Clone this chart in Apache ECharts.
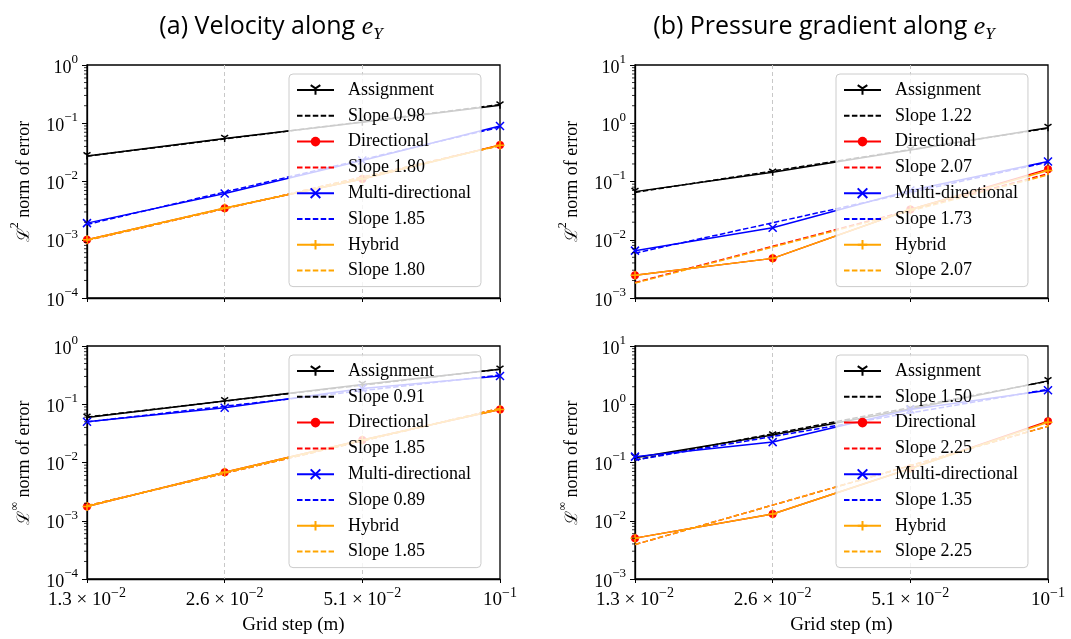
<!DOCTYPE html>
<html>
<head>
<meta charset="utf-8">
<script src="https://cdn.jsdelivr.net/npm/echarts@6/dist/echarts.min.js"></script>
<style>
html,body{margin:0;padding:0;background:#fff;}
#chart{width:1071px;height:639px;}
</style>
</head>
<body>
<div id="chart"></div>
<script>
// ---------- data ----------
const gridSteps = ['0.0128', '0.0256', '0.0512', '0.1024'];
const xTickMantissa = ['1.3', '2.6', '5.1', ''];
const xTickExponent = ['−2', '−2', '−2', '−1'];
const methodNames = ['Assignment', 'Directional', 'Multi-directional', 'Hybrid'];

// (a) Velocity, L2 norm
const velL2Assignment = [0.0275, 0.0546, 0.104, 0.204];
const velL2Directional = [0.00100, 0.00349, 0.0110, 0.0425];
const velL2Multi = [0.00193, 0.0062, 0.0229, 0.090];
const velL2Hybrid = [0.00100, 0.00350, 0.0110, 0.0420];
const velL2FitAssignment = [0.0272, 0.209];
const velL2FitDirectional = [0.00098, 0.0413];
const velL2FitMulti = [0.00183, 0.086];
const velL2FitHybrid = [0.00098, 0.0413];
const velL2Slopes = ['0.98', '1.80', '1.85', '1.80'];

// (b) Pressure gradient, L2 norm
const prsL2Assignment = [0.067, 0.144, 0.347, 0.84];
const prsL2Directional = [0.00245, 0.00479, 0.033, 0.163];
const prsL2Multi = [0.0065, 0.0161, 0.070, 0.22];
const prsL2Hybrid = [0.00245, 0.00479, 0.033, 0.155];
const prsL2FitAssignment = [0.065, 0.82];
const prsL2FitDirectional = [0.00184, 0.136];
const prsL2FitMulti = [0.0059, 0.215];
const prsL2FitHybrid = [0.0018, 0.130];
const prsL2Slopes = ['1.22', '2.07', '1.73', '2.07'];

// (a) Velocity, Linf norm
const velLiAssignment = [0.0593, 0.114, 0.218, 0.398];
const velLiDirectional = [0.00175, 0.00679, 0.0243, 0.0813];
const velLiMulti = [0.050, 0.0868, 0.186, 0.306];
const velLiHybrid = [0.00175, 0.00679, 0.0243, 0.0813];
const velLiFitAssignment = [0.0604, 0.40];
const velLiFitDirectional = [0.00181, 0.0848];
const velLiFitMulti = [0.0498, 0.317];
const velLiFitHybrid = [0.00181, 0.0848];
const velLiSlopes = ['0.91', '1.85', '0.89', '1.85'];

// (b) Pressure gradient, Linf norm
const prsLiAssignment = [0.121, 0.296, 0.83, 2.52];
const prsLiDirectional = [0.00503, 0.0131, 0.079, 0.513];
const prsLiMulti = [0.126, 0.224, 0.81, 1.74];
const prsLiHybrid = [0.00503, 0.0131, 0.079, 0.49];
const prsLiFitAssignment = [0.11, 2.49];
const prsLiFitDirectional = [0.0039, 0.42];
const prsLiFitMulti = [0.11, 1.80];
const prsLiFitHybrid = [0.0039, 0.42];
const prsLiSlopes = ['1.50', '2.25', '1.35', '2.25'];

const minorMultipliers = [2, 3, 4, 5, 6, 7, 8, 9];

// ---------- styling ----------
const SERIF = '"Liberation Serif", "DejaVu Serif", serif';
const SANS = '"Open Sans", "Noto Sans", sans-serif';
const colors = ['#000000', '#ff0000', '#0000ff', '#ffa500'];
const SYM_TRI = 'path://M5,5L5,10M5,5L0.67,2.5M5,5L9.33,2.5';
const SYM_X = 'path://M0,0L10,10M10,0L0,10';
const SYM_PLUS = 'path://M5,0L5,10M0,5L10,5';
const SYM_BOX = 'path://M0,0L10,0L10,10L0,10Z';
const symbols = [SYM_TRI, 'circle', SYM_X, SYM_PLUS];
const symbolSizes = [7, 8, 8, 9];
const DASH = [5.5, 2.4];

const panels = [
  {left: 87, top: 65, yMin: 1e-4, yMax: 1, showX: false, sup: '2',
   data: [velL2Assignment, velL2Directional, velL2Multi, velL2Hybrid],
   fits: [velL2FitAssignment, velL2FitDirectional, velL2FitMulti, velL2FitHybrid],
   slopes: velL2Slopes, legendLeft: 289, legendTop: 74},
  {left: 635, top: 65, yMin: 1e-3, yMax: 10, showX: false, sup: '2',
   data: [prsL2Assignment, prsL2Directional, prsL2Multi, prsL2Hybrid],
   fits: [prsL2FitAssignment, prsL2FitDirectional, prsL2FitMulti, prsL2FitHybrid],
   slopes: prsL2Slopes, legendLeft: 836, legendTop: 74},
  {left: 87, top: 346, yMin: 1e-4, yMax: 1, showX: true, sup: '∞',
   data: [velLiAssignment, velLiDirectional, velLiMulti, velLiHybrid],
   fits: [velLiFitAssignment, velLiFitDirectional, velLiFitMulti, velLiFitHybrid],
   slopes: velLiSlopes, legendLeft: 289, legendTop: 355},
  {left: 635, top: 346, yMin: 1e-3, yMax: 10, showX: true, sup: '∞',
   data: [prsLiAssignment, prsLiDirectional, prsLiMulti, prsLiHybrid],
   fits: [prsLiFitAssignment, prsLiFitDirectional, prsLiFitMulti, prsLiFitHybrid],
   slopes: prsLiSlopes, legendLeft: 836, legendTop: 355}
];
const PW = 413, PH = 233;

const tickRich = {
  b: {fontFamily: SERIF, fontSize: 18, color: '#000', lineHeight: 24, verticalAlign: 'bottom'},
  s: {fontFamily: SERIF, fontSize: 13, color: '#000', lineHeight: 13, verticalAlign: 'top'}
};
const xTickRich = {
  b: {fontFamily: SERIF, fontSize: 19, color: '#000', lineHeight: 24, verticalAlign: 'bottom'},
  s: {fontFamily: SERIF, fontSize: 14, color: '#000', lineHeight: 13, verticalAlign: 'top'}
};
const nameRich = {
  l: {fontFamily: '"DejaVu Serif", serif', fontSize: 17, color: '#000', lineHeight: 24, verticalAlign: 'bottom'},
  s: {fontFamily: SERIF, fontSize: 12, color: '#000', lineHeight: 12, verticalAlign: 'top'},
  t: {fontFamily: SERIF, fontSize: 18, color: '#000', lineHeight: 24, verticalAlign: 'bottom'}
};

function expStr(v) {
  const e = Math.round(Math.log10(v));
  return (e < 0 ? '−' + (-e) : String(e));
}

const grids = [], xAxes = [], yAxes = [], series = [], legends = [];

panels.forEach((p, i) => {
  grids.push({left: p.left, top: p.top, width: PW, height: PH, show: true,
              borderColor: '#000', borderWidth: 1.3, backgroundColor: 'transparent'});
  xAxes.push({
    type: 'category', gridIndex: i, data: gridSteps, boundaryGap: false,
    axisLine: {show: true, lineStyle: {color: '#000', width: 1.3}},
    axisTick: {show: true, inside: false, length: 4, lineStyle: {color: '#000', width: 1}},
    splitLine: {show: true, interval: (idx) => idx > 0 && idx < gridSteps.length - 1,
                lineStyle: {color: '#c8c8c8', type: [4, 3], width: 1}},
    axisLabel: {show: p.showX, margin: 7, interval: 0,
      formatter: (v, idx) => '{b|' + (xTickMantissa[idx] ? xTickMantissa[idx] + ' × ' : '') + '10}{s|' + xTickExponent[idx] + '}',
      rich: xTickRich},
    name: p.showX ? 'Grid step (m)' : '', nameLocation: 'middle', nameGap: 37,
    nameTextStyle: {fontFamily: SERIF, fontSize: 19, color: '#000'}
  });
  yAxes.push({
    type: 'log', gridIndex: i, logBase: 10, min: p.yMin, max: p.yMax,
    axisLine: {show: true, lineStyle: {color: '#000', width: 1.3}},
    axisTick: {show: true, inside: false, length: 5, lineStyle: {color: '#000', width: 1}},
    minorTick: {show: false},
    splitLine: {show: false},
    axisLabel: {margin: 9, formatter: v => '{b|10}{s|' + expStr(v) + '}', rich: tickRich},
    name: '{l|ℒ}{s|' + p.sup + '}{t| norm of error}', nameLocation: 'middle', nameRotate: 90, nameGap: 54,
    nameTextStyle: {rich: nameRich}
  });

  const legendData = [];
  methodNames.forEach((m, k) => {
    const nm = m + '#' + i + k;
    const fitName = 'Slope ' + p.slopes[k] + '#' + i + k + 'f';
    legendData.push({name: nm}, {name: fitName, itemStyle: {opacity: 0}});
    series.push({
      type: 'line', name: nm, xAxisIndex: i, yAxisIndex: i,
      data: p.data[k], symbol: symbols[k], symbolSize: symbolSizes[k], showSymbol: true,
      lineStyle: {color: colors[k], width: 1.5},
      itemStyle: {color: colors[k], borderColor: colors[k], borderWidth: k === 1 ? 0 : 1.5},
      emphasis: {disabled: true}, silent: true, z: 2 + k * 0.1
    });
    series.push({
      type: 'line', name: fitName, xAxisIndex: i, yAxisIndex: i,
      data: [[0, p.fits[k][0]], [gridSteps.length - 1, p.fits[k][1]]],
      symbol: SYM_BOX, symbolSize: 6, showSymbol: false,
      lineStyle: {color: colors[k], width: 1.5, type: DASH},
      itemStyle: {color: colors[k], opacity: 0, borderWidth: 0},
      emphasis: {disabled: true}, silent: true, z: 2 + k * 0.1 + 0.05
    });
  });

  // minor ticks of the log y-axis
  const minorVals = [];
  for (let e = Math.round(Math.log10(p.yMin)); e < Math.round(Math.log10(p.yMax)); e++) {
    minorMultipliers.forEach(m => minorVals.push([0, m * Math.pow(10, e)]));
  }
  series.push({
    type: 'custom', xAxisIndex: i, yAxisIndex: i, silent: true, clip: false, z: 5,
    data: minorVals,
    renderItem: (params, api) => {
      const pt = api.coord([api.value(0), api.value(1)]);
      return {type: 'line', shape: {x1: pt[0] - 3, y1: pt[1], x2: pt[0], y2: pt[1]},
              style: {stroke: '#000', lineWidth: 0.8}};
    }
  });

  legends.push({
    data: legendData, orient: 'vertical', left: p.legendLeft, top: p.legendTop,
    itemWidth: 37, itemHeight: 12, itemGap: 7.8,
    padding: [7, 10, 7, 7],
    backgroundColor: 'rgba(255,255,255,0.8)', borderColor: '#cccccc', borderWidth: 1, borderRadius: 4,
    formatter: name => name.split('#')[0],
    textStyle: {fontFamily: SERIF, fontSize: 18, color: '#000', lineHeight: 18, padding: [0, 0, 0, 9]},
    selectedMode: false, z: 10
  });
});

const titleRich = {
  n: {fontFamily: SANS, fontSize: 25, fontWeight: 'normal', color: '#000', lineHeight: 32, verticalAlign: 'middle'},
  i: {fontFamily: SERIF, fontStyle: 'italic', fontWeight: 'normal', fontSize: 26, color: '#000', lineHeight: 32, verticalAlign: 'middle'},
  sub: {fontFamily: SERIF, fontStyle: 'italic', fontWeight: 'normal', fontSize: 17, color: '#000', lineHeight: 19, verticalAlign: 'bottom'}
};

const option = {
  animation: false,
  backgroundColor: '#fff',
  title: [
    {text: '{n|(a) Velocity along }{i|e}{sub|Y}', left: 266, top: 6, textAlign: 'center',
     textStyle: {fontWeight: 'normal', rich: titleRich}},
    {text: '{n|(b) Pressure gradient along }{i|e}{sub|Y}', left: 819, top: 6, textAlign: 'center',
     textStyle: {fontWeight: 'normal', rich: titleRich}}
  ],
  grid: grids, xAxis: xAxes, yAxis: yAxes, legend: legends, series: series
};

const chart = echarts.init(document.getElementById('chart'), null, {renderer: 'canvas'});
chart.setOption(option);
</script>
</body>
</html>
